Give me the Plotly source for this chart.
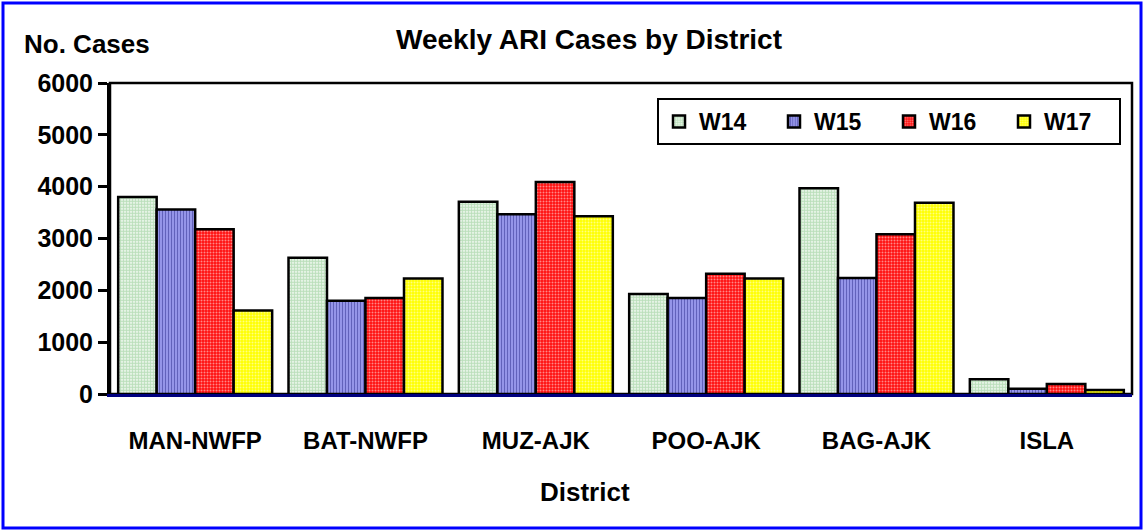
import plotly.graph_objects as go

districts = ["MAN-NWFP", "BAT-NWFP", "MUZ-AJK", "POO-AJK", "BAG-AJK", "ISLA"]
weeks = ["W14", "W15", "W16", "W17"]
w14 = [3800, 2630, 3710, 1930, 3970, 285]
w15 = [3560, 1800, 3470, 1850, 2240, 100]
w16 = [3180, 1850, 4090, 2320, 3080, 195]
w17 = [1610, 2230, 3430, 2230, 3690, 75]
y_ticks = [0, 1000, 2000, 3000, 4000, 5000, 6000]

series = [w14, w15, w16, w17]
patterns = [
    dict(shape=".", fgcolor="#78c078", bgcolor="#ffffff", size=3, solidity=0.7),
    dict(shape="|", fgcolor="#2a2a88", bgcolor="#9a9aee", size=3, solidity=0.4),
    dict(shape=".", fgcolor="#ffffff", bgcolor="#ff1010", size=3, solidity=0.35),
    dict(shape=".", fgcolor="#ffffff", bgcolor="#ffff00", size=3, solidity=0.35),
]

FONT = "Arial, Liberation Sans, sans-serif"

fig = go.Figure()
for name, vals, pat in zip(weeks, series, patterns):
    fig.add_trace(go.Bar(
        x=districts, y=vals, name=name,
        marker=dict(color=pat["bgcolor"], pattern=pat,
                    line=dict(color="#000000", width=2.5)),
    ))

W, H = 1144, 531
L, R, T, B = 110, 12, 83, 137
pw, ph = W - L - R, H - T - B

def px(x):
    return (x - L) / pw

def py(y):
    return (H - B - y) / ph

fig.update_layout(
    width=W, height=H,
    margin=dict(l=L, r=R, t=T, b=B),
    paper_bgcolor="white", plot_bgcolor="white",
    barmode="group", bargap=0.096, bargroupgap=0,
    font=dict(family=FONT, color="black", size=24, weight="bold"),
    title=dict(text="Weekly ARI Cases by District", xref="container", yref="container",
               x=589 / W, y=1 - 39 / H, xanchor="center", yanchor="middle",
               font=dict(size=28, family=FONT, weight="bold", color="black")),
    legend=dict(orientation="h", x=px(1121), y=py(98), xanchor="right", yanchor="top",
                bordercolor="black", borderwidth=2, bgcolor="white",
                font=dict(size=23, family=FONT, weight="bold"),
                itemwidth=30, entrywidth=70, tracegroupgap=0),
    xaxis=dict(showline=True, linecolor="#000080", linewidth=3, ticks="",
               showgrid=False, tickfont=dict(size=24, weight="bold"),
               ticklabelstandoff=23, layer="above traces"),
    yaxis=dict(range=[0, 6000], tickvals=y_ticks, showline=True, linecolor="black",
               linewidth=3, ticks="outside", ticklen=9, tickwidth=2.5, tickcolor="black",
               showgrid=False, zeroline=False, tickfont=dict(size=25, weight="bold")),
    shapes=[
        dict(type="rect", xref="paper", yref="paper", x0=0, x1=1, y0=0, y1=1,
             line=dict(color="black", width=2.5), layer="below"),
        dict(type="rect", xref="paper", yref="paper", x0=px(3), x1=px(1141),
             y0=py(528), y1=py(3), line=dict(color="#0000ff", width=3)),
    ],
    annotations=[
        dict(text="No. Cases", xref="paper", yref="paper", x=px(22), y=py(44),
             xanchor="left", yanchor="middle", showarrow=False,
             font=dict(size=26, family=FONT, weight="bold")),
        dict(text="District", xref="paper", yref="paper", x=px(585), y=py(492),
             xanchor="center", yanchor="middle", showarrow=False,
             font=dict(size=26, family=FONT, weight="bold")),
    ],
)

fig.write_html("out.html", config={"displayModeBar": False},
               post_script="document.body.style.margin='0';document.body.style.padding='0';")
